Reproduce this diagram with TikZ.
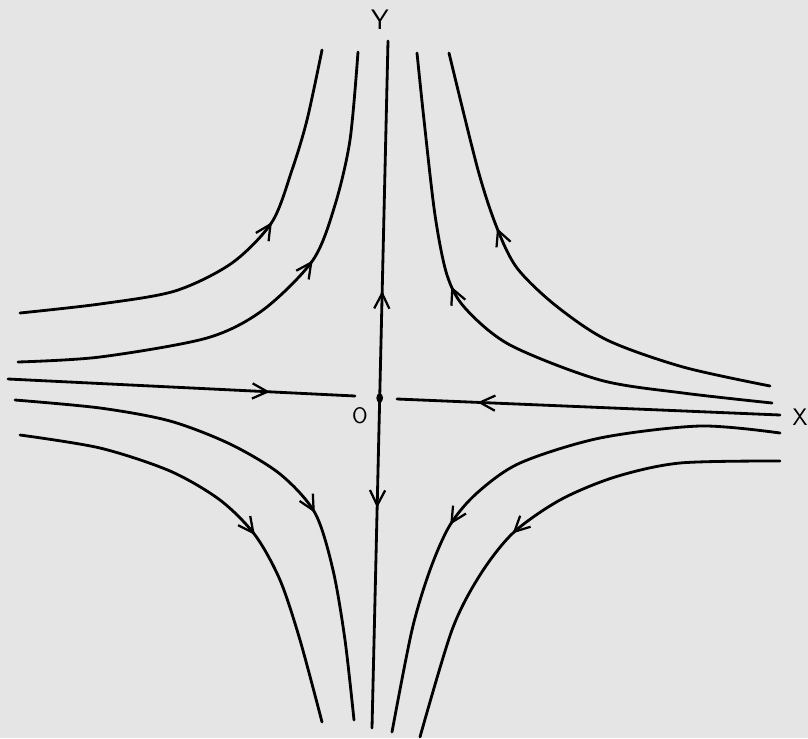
\documentclass[tikz,border=0pt]{standalone}
\usepackage{tikz}
\usetikzlibrary{arrows.meta,decorations.markings}

\tikzset{
  flow/.style={line width=2pt, line cap=round},
  flowarrow/.style={postaction={decorate},
    decoration={markings, mark=at position #1 with
      {\arrow{Straight Barb[length=3.8mm,width=3.8mm,line width=1.6pt]}}}},
}

\begin{document}
\begin{tikzpicture}[x=0.025cm,y=-0.025cm]
  \useasboundingbox (0,0) rectangle (808,738);
  \fill[black!10] (0,0) rectangle (808,738);
  \coordinate (O) at (379.7,398);
  \coordinate (top) at (388,41);
  \coordinate (bot) at (372,728);
  \coordinate (left) at (8,379);
  \coordinate (lend) at (355,396);
  \coordinate (right) at (780,415);
  \coordinate (rend) at (397,399);
  % axes
  \draw[flow,flowarrow=0.755] (left) -- (lend);
  \draw[flow,flowarrow=0.79] (right) -- (rend);
  \draw[flow,flowarrow=0.3] (O) -- (top);
  \draw[flow,flowarrow=0.333] (O) -- (bot);
  % upper half
  \draw[flow,flowarrow=6.94cm] plot[smooth] coordinates {(20,313) (100,304) (175,291) (232,263) (272,222) (292,170) (307,120) (322,50)};
  \draw[flow,flowarrow=8.1cm] plot[smooth] coordinates {(18,362) (100,357) (207,338) (263,310) (313,260) (335,205) (350,140) (358,52)};
  \draw[flow,flowarrow=8.26cm] plot[smooth] coordinates {(770,386) (683,367) (607,340) (555,305) (517,268) (497,228) (478,170) (449,53)};
  \draw[flow,flowarrow=8.86cm] plot[smooth] coordinates {(772,403) (683,393) (600,380) (510,345) (465,308) (447,275) (435,215) (424,120) (417,53)};
  % lower half
  \draw[flow,flowarrow=6.55cm] plot[smooth] coordinates {(20,435) (100,448) (170,471) (220,500) (255,535) (280,580) (300,640) (322,722)};
  \draw[flow,flowarrow=8.29cm] plot[smooth] coordinates {(15,400) (100,408) (170,421) (230,444) (280,474) (315,513) (333,570) (345,640) (354,720)};
  \draw[flow,flowarrow=8.98cm] plot[smooth] coordinates {(780,433) (700,426) (600,438) (520,463) (477,493) (450,525) (430,570) (412,630) (392,732)};
  \draw[flow,flowarrow=7.11cm] plot[smooth] coordinates {(780,461) (680,463) (615,477) (560,500) (513,533) (480,575) (452,630) (420,737)};
  \fill (O) ellipse [x radius=2.4pt, y radius=3.4pt];
  \node (ylab) at (380,20) {\sffamily\fontsize{20}{24}\selectfont Y};
  \node (xlab) at (800,417) {\sffamily\fontsize{17}{20}\selectfont X};
  \node (olab) at (360,416) {\sffamily\fontsize{16}{19}\selectfont O};
\end{tikzpicture}
\end{document}
